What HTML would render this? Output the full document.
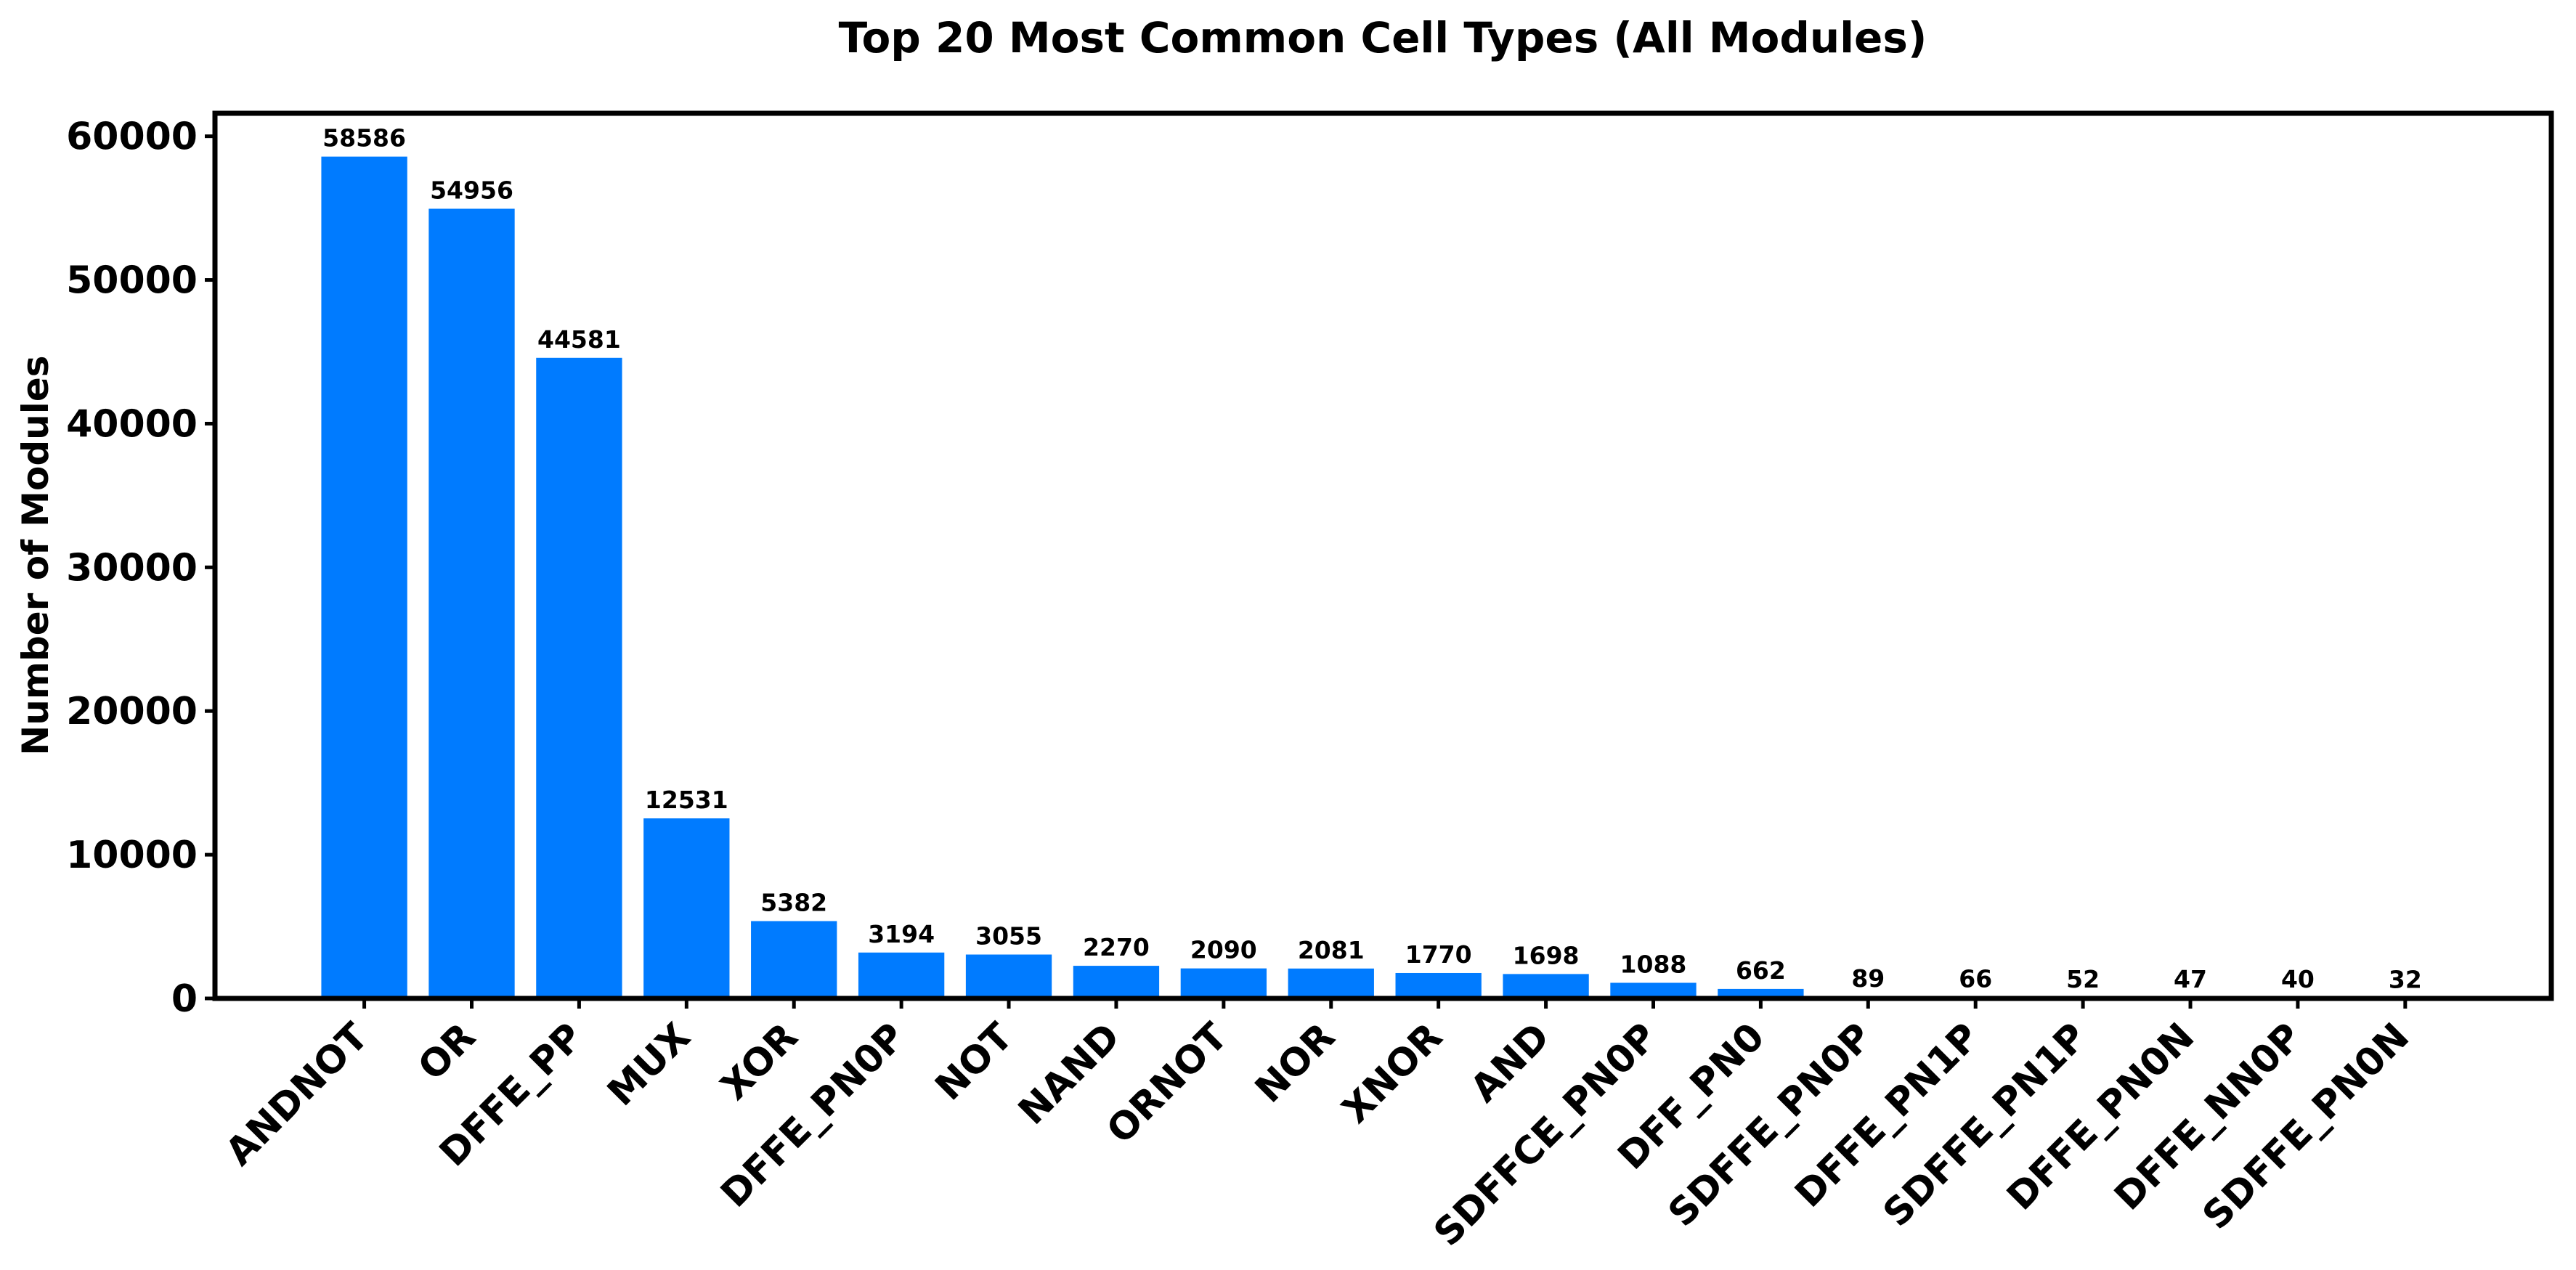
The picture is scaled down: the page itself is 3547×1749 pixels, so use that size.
<!DOCTYPE html>
<html><head><meta charset="utf-8"><style>
html,body{margin:0;padding:0;background:#fff;}
svg{display:block;font-family:"DejaVu Sans","Liberation Sans",sans-serif;font-weight:bold;}
</style></head><body>
<svg id="chart" width="3547" height="1749" viewBox="0 0 3547 1749" xmlns="http://www.w3.org/2000/svg">
<rect width="3547" height="1749" fill="#fff"/>
<text x="1904" y="72" text-anchor="middle" font-size="58">Top 20 Most Common Cell Types (All Modules)</text>
<text transform="translate(66,765) rotate(-90)" text-anchor="middle" font-size="50">Number of Modules</text>
<g id="plot"></g>
</svg>
<script>
const categories = ["ANDNOT","OR","DFFE_PP","MUX","XOR","DFFE_PN0P","NOT","NAND","ORNOT","NOR","XNOR","AND","SDFFCE_PN0P","DFF_PN0","SDFFE_PN0P","DFFE_PN1P","SDFFE_PN1P","DFFE_PN0N","DFFE_NN0P","SDFFE_PN0N"];
const values = [58586,54956,44581,12531,5382,3194,3055,2270,2090,2081,1770,1698,1088,662,89,66,52,47,40,32];
const yTicks = [0,10000,20000,30000,40000,50000,60000];

const NS = "http://www.w3.org/2000/svg";
const L = 296, R = 3513, T = 156, B = 1375;
const xMin = -1.39, xMax = 20.36, yMax = 61600;
function xs(i){ return L + (i - xMin) / (xMax - xMin) * (R - L); }
function ys(v){ return B - v / yMax * (B - T); }
const plot = document.getElementById('plot');
function mk(tag, attrs){ const e = document.createElementNS(NS, tag); for (const k in attrs) e.setAttribute(k, attrs[k]); plot.appendChild(e); return e; }

const bw = 0.8 * (xs(1) - xs(0));
values.forEach((v, i) => {
  const cx = xs(i);
  const r = mk('rect', {x: cx - bw/2, y: ys(v), width: bw, height: B - ys(v), fill: '#007bff'});
  
  
  const t = mk('text', {x: cx, y: ys(v) - 14, 'text-anchor': 'middle', 'font-size': 33});
  t.textContent = String(v);
  
  
  const tk = mk('line', {x1: cx, x2: cx, y1: B, y2: B + 14, stroke: '#000', 'stroke-width': 5});
  
  
  const lx = cx + 8, ly = B + 56;
  const lab = mk('text', {x: lx, y: ly, 'text-anchor': 'end', 'font-size': 52, transform: 'rotate(-45 ' + lx + ' ' + ly + ')'});
  lab.textContent = categories[i];
  
  
});
yTicks.forEach(v => {
  const y = ys(v);
  const tk = mk('line', {x1: L - 14, x2: L, y1: y, y2: y, stroke: '#000', 'stroke-width': 5});
  
  
  const t = mk('text', {x: L - 24, y: y + 18, 'text-anchor': 'end', 'font-size': 52});
  t.textContent = String(v);
  
  
});
const frame = mk('rect', {x: L, y: T, width: R - L, height: B - T, fill: 'none', stroke: '#000', 'stroke-width': 7});


</script>
</body></html>
